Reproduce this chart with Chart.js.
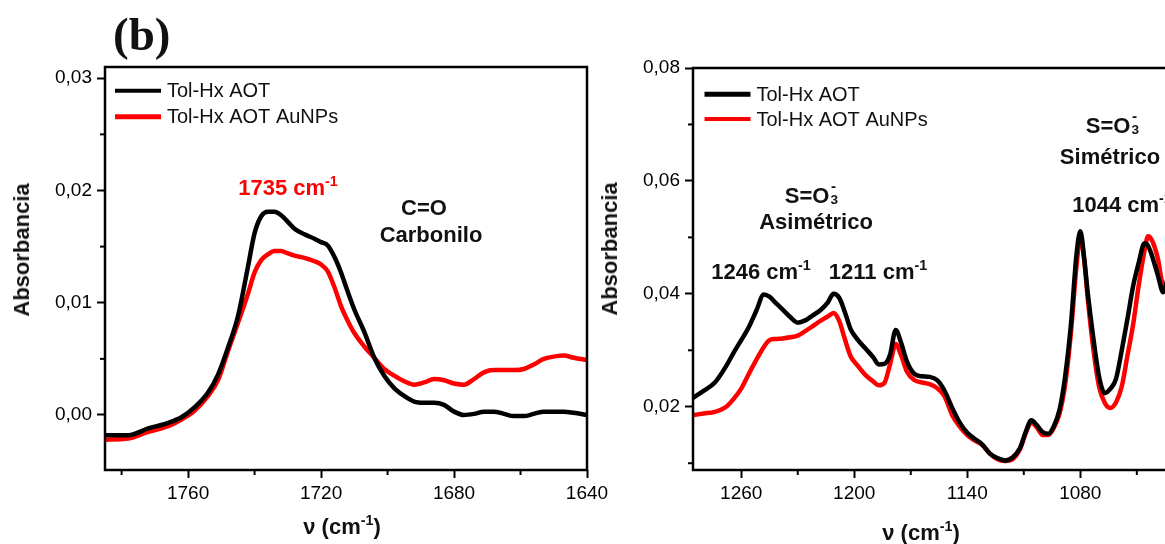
<!DOCTYPE html>
<html><head><meta charset="utf-8">
<script src="https://cdn.jsdelivr.net/npm/chart.js@4/dist/chart.umd.min.js"></script>
<style>
html,body{margin:0;padding:0;width:1165px;height:544px;overflow:hidden;background:#fff;}
#wrap{position:relative;width:1165px;height:544px;overflow:hidden;}
canvas{position:absolute;top:0;}
.t{position:absolute;font-family:'Liberation Sans',Arial,sans-serif;font-weight:bold;font-size:22px;white-space:nowrap;color:#111;transform:translate(-50%,-50%);line-height:1;}
.rot{transform:translate(-50%,-50%) rotate(-90deg);}
.red{color:#ff0000;}
.sup{font-size:0.65em;position:relative;top:-0.6em;}
.st{display:inline-block;position:relative;width:0.45em;height:1em;vertical-align:baseline;}
.st .u{position:absolute;left:0.1em;top:-0.2em;font-size:0.7em;line-height:1;}
.st .d{position:absolute;left:0.08em;top:0.9em;font-size:0.62em;line-height:1;}
.b{position:absolute;font-family:'Liberation Serif','Times New Roman',serif;font-weight:bold;font-size:47px;line-height:1;color:#111;left:113px;top:11px;}
</style>
</head><body>
<div id="wrap">
<canvas id="c1" width="625" height="544" style="left:0px"></canvas>
<canvas id="c2" width="700" height="544" style="left:595px"></canvas>

<div class="b">(b)</div>
<div class="t rot" style="left:22px;top:250px">Absorbancia</div>
<div class="t rot" style="left:610px;top:249px">Absorbancia</div>
<div class="t" style="left:342px;top:527px">ν (cm<span class="sup">-1</span>)</div>
<div class="t" style="left:921px;top:533px">ν (cm<span class="sup">-1</span>)</div>

<div class="t red" style="left:288px;top:188px">1735 cm<span class="sup">-1</span></div>
<div class="t" style="left:424px;top:208px">C=O</div>
<div class="t" style="left:431px;top:235px">Carbonilo</div>

<div class="t" style="left:812px;top:194px">S=O<span class="st"><span class="u">-</span><span class="d">3</span></span></div>
<div class="t" style="left:816px;top:222px">Asimétrico</div>
<div class="t" style="left:761px;top:272px">1246 cm<span class="sup">-1</span></div>
<div class="t" style="left:878px;top:272px">1211 cm<span class="sup">-1</span></div>
<div class="t" style="left:1113px;top:124px">S=O<span class="st"><span class="u">-</span><span class="d">3</span></span></div>
<div class="t" style="left:1110px;top:157px">Simétrico</div>
<div class="t" style="left:1122px;top:205px">1044 cm<span class="sup">-1</span></div>
</div>

<script>
// ---------- DATA ----------
const seriesLabels = ['Tol-Hx AOT', 'Tol-Hx AOT AuNPs'];
const seriesColors = ['#000000', '#ff0000'];

// Left panel: carbonyl region
const leftWavenumber = [1785,1778,1772,1766,1762,1758,1754,1751,1748,1745,1742,1740,1738,1736,1734,1732,1730,1728,1725,1722,1720,1718,1716,1714,1712,1710,1707,1704,1701,1698,1695,1692,1689,1686,1683,1680,1677,1674,1671,1668,1665,1662,1659,1656,1653,1650,1647,1644,1640];
const leftAOT = [-0.0018,-0.0018,-0.0012,-0.0007,-0.0002,0.0007,0.0020,0.0036,0.0060,0.0088,0.0132,0.0162,0.0177,0.0181,0.0181,0.0178,0.0172,0.0166,0.0161,0.0157,0.0154,0.0151,0.0141,0.0127,0.0110,0.0094,0.0074,0.0051,0.0035,0.0024,0.0017,0.0012,0.0011,0.0011,0.0009,0.0003,0.0000,0.0001,0.0003,0.0003,0.0001,-0.0001,-0.0001,0.0001,0.0003,0.0003,0.0003,0.0002,0.0000];
const leftAuNPs = [-0.0022,-0.0021,-0.0015,-0.0010,-0.0004,0.0004,0.0017,0.0031,0.0057,0.0082,0.0108,0.0127,0.0138,0.0143,0.0146,0.0146,0.0144,0.0142,0.0140,0.0137,0.0134,0.0128,0.0114,0.0097,0.0084,0.0073,0.0061,0.0051,0.0041,0.0035,0.0030,0.0027,0.0029,0.0032,0.0031,0.0028,0.0027,0.0032,0.0038,0.0040,0.0040,0.0040,0.0041,0.0045,0.0050,0.0052,0.0053,0.0051,0.0049];

// Right panel: sulfonate region
const rightWavenumber = [1286,1280,1274,1268,1264,1260,1256,1252,1248,1245,1242,1238,1234,1230,1226,1222,1218,1214,1211,1208,1205,1202,1198,1194,1190,1187,1184,1181,1178,1175,1172,1168,1164,1160,1156,1152,1148,1144,1140,1136,1132,1128,1124,1120,1116,1112,1109,1106,1103,1100,1097,1094,1091,1088,1085,1082,1080,1078,1076,1073,1070,1067,1064,1061,1058,1055,1052,1049,1046,1044,1042,1039,1036,1033,1030];
const rightAOT = [0.0215,0.0228,0.0243,0.0272,0.0296,0.0318,0.0341,0.0370,0.0399,0.0395,0.0385,0.0372,0.0359,0.0349,0.0353,0.0362,0.0371,0.0385,0.0400,0.0393,0.0368,0.0338,0.0318,0.0303,0.0288,0.0275,0.0276,0.0292,0.0336,0.0312,0.0280,0.0258,0.0254,0.0253,0.0247,0.0228,0.0198,0.0172,0.0154,0.0143,0.0133,0.0117,0.0109,0.0105,0.0110,0.0127,0.0155,0.0176,0.0167,0.0155,0.0152,0.0166,0.0195,0.0255,0.0345,0.0470,0.0511,0.0465,0.0400,0.0320,0.0253,0.0224,0.0232,0.0250,0.0300,0.0355,0.0413,0.0455,0.0489,0.0485,0.0468,0.0435,0.0403,0.0440,0.0500];
const rightAuNPs = [0.0185,0.0188,0.0191,0.0200,0.0214,0.0232,0.0258,0.0283,0.0306,0.0318,0.0320,0.0321,0.0323,0.0326,0.0334,0.0343,0.0352,0.0360,0.0366,0.0352,0.0320,0.0290,0.0272,0.0256,0.0245,0.0238,0.0242,0.0275,0.0311,0.0290,0.0262,0.0247,0.0243,0.0240,0.0233,0.0218,0.0185,0.0165,0.0150,0.0140,0.0132,0.0117,0.0107,0.0104,0.0107,0.0125,0.0153,0.0172,0.0163,0.0150,0.0150,0.0163,0.0188,0.0240,0.0330,0.0450,0.0500,0.0462,0.0390,0.0300,0.0235,0.0207,0.0198,0.0208,0.0236,0.0290,0.0345,0.0415,0.0475,0.0502,0.0495,0.0465,0.0415,0.0410,0.0450];

// Tick values
const leftXTicks = [1760, 1720, 1680, 1640];
const leftXMinorTicks = [1780, 1740, 1700, 1660];
const leftYTicks = [0.00, 0.01, 0.02, 0.03];
const leftYMinorTicks = [0.005, 0.015, 0.025];
const rightXTicks = [1260, 1200, 1140, 1080, 1020];
const rightXMinorTicks = [1230, 1170, 1110, 1050];
const rightYTicks = [0.02, 0.04, 0.06, 0.08];
const rightYMinorTicks = [0.01, 0.03, 0.05, 0.07];

// ---------- CHART ----------
const FONT = "'Liberation Sans', Arial, sans-serif";

const framePlugin = {
  id: 'frame',
  afterDatasetsDraw(chart) {
    const {ctx, chartArea: a} = chart;
    ctx.save();
    ctx.strokeStyle = '#000';
    ctx.lineWidth = 2.5;
    ctx.strokeRect(a.left, a.top, a.right - a.left, a.bottom - a.top);
    // minor ticks
    const o = chart.options.plugins.minorTicks;
    ctx.lineWidth = 2;
    const xs = chart.scales.x, ys = chart.scales.y;
    o.x.forEach(v => {
      const px = xs.getPixelForValue(v);
      ctx.beginPath(); ctx.moveTo(px, a.bottom); ctx.lineTo(px, a.bottom + 5); ctx.stroke();
    });
    o.y.forEach(v => {
      const py = ys.getPixelForValue(v);
      ctx.beginPath(); ctx.moveTo(a.left, py); ctx.lineTo(a.left - 5, py); ctx.stroke();
    });
    // legend
    const L = chart.options.plugins.ownLegend;
    chart.data.datasets.forEach((ds, i) => {
      const y = L.y[i];
      ctx.strokeStyle = ds.borderColor;
      ctx.lineWidth = L.w[i];
      ctx.beginPath(); ctx.moveTo(L.x, y); ctx.lineTo(L.x + L.len, y); ctx.stroke();
      ctx.fillStyle = '#111';
      ctx.font = '20px ' + FONT;
      ctx.textBaseline = 'middle';
      ctx.textAlign = 'left';
      ctx.fillText(ds.label, L.x + L.len + 6, y + 1);
    });
    ctx.restore();
  }
};

function makeChart(id, xs, ys1, ys2, o) {
  return new Chart(document.getElementById(id), {
    type: 'line',
    data: {
      datasets: [
        {label: seriesLabels[0], data: xs.map((x, i) => ({x, y: ys1[i]})), borderColor: seriesColors[0], borderWidth: 4.5, pointRadius: 0, cubicInterpolationMode: 'monotone'},
        {label: seriesLabels[1], data: xs.map((x, i) => ({x, y: ys2[i]})), borderColor: seriesColors[1], borderWidth: 4.5, pointRadius: 0, cubicInterpolationMode: 'monotone'}
      ]
    },
    options: {
      responsive: false,
      animation: false,
      devicePixelRatio: 1,
      layout: {padding: {left: 0, top: o.padTop, right: o.padRight, bottom: 0}},
      plugins: {
        legend: {display: false},
        tooltip: {enabled: false},
        minorTicks: {x: o.xMinor, y: o.yMinor},
        ownLegend: o.legend
      },
      scales: {
        x: {
          type: 'linear', reverse: true, min: o.xMin, max: o.xMax,
          afterBuildTicks: s => { s.ticks = o.xTicks.map(v => ({value: v})); },
          afterFit: s => { s.height = 74; },
          ticks: {autoSkip: false, maxRotation: 0, minRotation: 0, padding: 4, color: '#000', font: {family: FONT, size: 19}, callback: v => String(v)},
          grid: {drawOnChartArea: false, drawTicks: true, tickLength: 8, tickWidth: 2, color: '#000'},
          border: {display: false}
        },
        y: {
          type: 'linear', min: o.yMin, max: o.yMax,
          afterBuildTicks: s => { s.ticks = o.yTicks.map(v => ({value: v})); },
          afterFit: s => { s.width = o.yWidth; },
          ticks: {autoSkip: false, padding: 5, color: '#000', font: {family: FONT, size: 19}, callback: v => Number(v).toFixed(2).replace('.', ',')},
          grid: {drawOnChartArea: false, drawTicks: true, tickLength: 8, tickWidth: 2, color: '#000'},
          border: {display: false}
        }
      }
    },
    plugins: [framePlugin]
  });
}

makeChart('c1', leftWavenumber, leftAOT, leftAuNPs, {
  padTop: 67, padRight: 38, yWidth: 105,
  xMin: 1640, xMax: 1785, yMin: -0.0049, yMax: 0.031,
  xTicks: leftXTicks, xMinor: leftXMinorTicks, yTicks: leftYTicks, yMinor: leftYMinorTicks,
  legend: {x: 115, len: 46, y: [90.7, 116.7], w: [4, 5]}
});

makeChart('c2', rightWavenumber, rightAOT, rightAuNPs, {
  padTop: 68, padRight: 64, yWidth: 98,
  xMin: 1000, xMax: 1285.6, yMin: 0.0088, yMax: 0.08,
  xTicks: rightXTicks, xMinor: rightXMinorTicks, yTicks: rightYTicks, yMinor: rightYMinorTicks,
  legend: {x: 109.5, len: 46, y: [94.3, 119], w: [5, 4]}
});
</script>
</body></html>
